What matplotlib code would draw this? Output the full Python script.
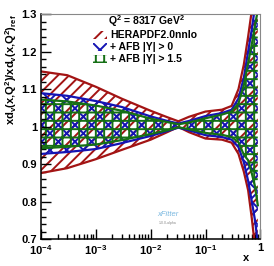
import matplotlib
matplotlib.use('Agg')
import matplotlib.pyplot as plt
from matplotlib.patches import Rectangle
from matplotlib.ticker import FixedLocator, FixedFormatter, LogLocator, NullFormatter, MultipleLocator

plt.rcParams['font.family'] = ['Liberation Sans', 'DejaVu Sans']
plt.rcParams['mathtext.fontset'] = 'custom'
plt.rcParams['mathtext.bf'] = 'Liberation Sans:bold'
plt.rcParams['mathtext.rm'] = 'Liberation Sans:bold'
plt.rcParams['mathtext.default'] = 'bf'
plt.rcParams['hatch.linewidth'] = 1.4

# x grid and band edges
x = [1e-4, 3e-4, 1e-3, 3e-3, 0.01, 0.02, 0.032, 0.05, 0.1, 0.2, 0.3, 0.4, 0.5, 0.6, 0.7, 0.8, 0.9]

hera_up = [1.147, 1.137, 1.106, 1.074, 1.042, 1.025, 1.014, 1.026, 1.040, 1.045, 1.055, 1.10, 1.165, 1.24, 1.31, 1.38, 1.45]
hera_lo = [0.876, 0.889, 0.913, 0.938, 0.965, 0.985, 0.999, 0.985, 0.968, 0.965, 0.957, 0.927, 0.88, 0.83, 0.755, 0.68, 0.60]

afb0_up = [1.089, 1.082, 1.068, 1.052, 1.027, 1.015, 1.008, 1.015, 1.028, 1.036, 1.045, 1.075, 1.13, 1.20, 1.26, 1.32, 1.40]
afb0_lo = [0.927, 0.932, 0.940, 0.956, 0.975, 0.988, 0.997, 0.990, 0.977, 0.972, 0.965, 0.945, 0.905, 0.855, 0.80, 0.75, 0.69]

afb15_up = [1.072, 1.067, 1.056, 1.042, 1.021, 1.012, 1.006, 1.011, 1.022, 1.032, 1.040, 1.062, 1.11, 1.17, 1.22, 1.27, 1.31]
afb15_lo = [0.942, 0.946, 0.952, 0.964, 0.980, 0.990, 0.998, 0.993, 0.983, 0.978, 0.972, 0.958, 0.925, 0.91, 0.875, 0.84, 0.79]

labels = ['HERAPDF2.0nnlo', '+ AFB |Y| > 0', '+ AFB |Y| > 1.5']
colors = ['#a31414', '#1414b4', '#157015']
hatches = ['///', 'xx', '++']
bands = [(hera_lo, hera_up), (afb0_lo, afb0_up), (afb15_lo, afb15_up)]

fig = plt.figure(figsize=(2.74, 2.66), dpi=100)
ax = fig.add_axes([0.150, 0.1015, 0.800, 0.8455])

for (lo, up), c, h in zip(bands, colors, hatches):
    ax.fill_between(x, lo, up, facecolor='none', edgecolor=c, hatch=h, linewidth=0)
for (lo, up), c in zip(bands, colors):
    ax.plot(x, up, color=c, lw=1.6)
    ax.plot(x, lo, color=c, lw=1.6)

ax.set_xscale('log')
ax.set_xlim(1e-4, 1)
ax.set_ylim(0.7, 1.3)

ax.xaxis.set_major_locator(FixedLocator([1e-4, 1e-3, 1e-2, 1e-1, 1]))
ax.xaxis.set_major_formatter(FixedFormatter(['10$^{-4}$', '10$^{-3}$', '10$^{-2}$', '10$^{-1}$', '1']))
ax.xaxis.set_minor_locator(LogLocator(base=10, subs=range(2, 10), numticks=20))
ax.xaxis.set_minor_formatter(NullFormatter())
ax.yaxis.set_major_locator(FixedLocator([0.7, 0.8, 0.9, 1.0, 1.1, 1.2, 1.3]))
ax.yaxis.set_major_formatter(FixedFormatter(['0.7', '0.8', '0.9', '1', '1.1', '1.2', '1.3']))
ax.yaxis.set_minor_locator(MultipleLocator(0.02))

ax.tick_params(which='both', direction='in', top=False, right=False, labelsize=8, pad=3)
ax.tick_params(which='major', length=7, width=1)
ax.tick_params(which='minor', length=3.5, width=1)
for lab in ax.get_xticklabels() + ax.get_yticklabels():
    lab.set_fontweight('bold')
for s in ['top', 'right']:
    ax.spines[s].set_color('#888888')
for s in ['left', 'bottom']:
    ax.spines[s].set_linewidth(1.1)

ax.set_ylabel('xd$_v$(x,Q$^2$)/xd$_v$(x,Q$^2$)$_{ref}$', loc='top', fontsize=8, fontweight='bold', labelpad=2)
ax.text(0.936, -0.085, 'x', transform=ax.transAxes, fontsize=8, fontweight='bold', ha='center', va='center')

# legend drawn by hand
ax.text(0.482, 0.969, 'Q$^2$ = 8317 GeV$^2$', transform=ax.transAxes, fontsize=7.5, fontweight='bold', ha='center', va='center')
rows = [0.907, 0.855, 0.802]
for y, lab, c, h in zip(rows, labels, colors, hatches):
    ax.add_patch(Rectangle((0.236, y - 0.018), 0.064, 0.036, transform=ax.transAxes,
                           facecolor='none', edgecolor=c, hatch=h, linewidth=0))
    ax.text(0.314, y, lab, transform=ax.transAxes, fontsize=7.5, fontweight='bold', ha='left', va='center')

# xFitter logo
ax.text(0.577, 0.11, 'xFitter', transform=ax.transAxes, fontsize=5.5, style='italic', color='#7ab8e0', ha='center', va='center')
ax.text(0.577, 0.07, '1.0.0-alpha', transform=ax.transAxes, fontsize=2.5, color='#888888', ha='center', va='center')

fig.savefig('out.png', dpi=100)
